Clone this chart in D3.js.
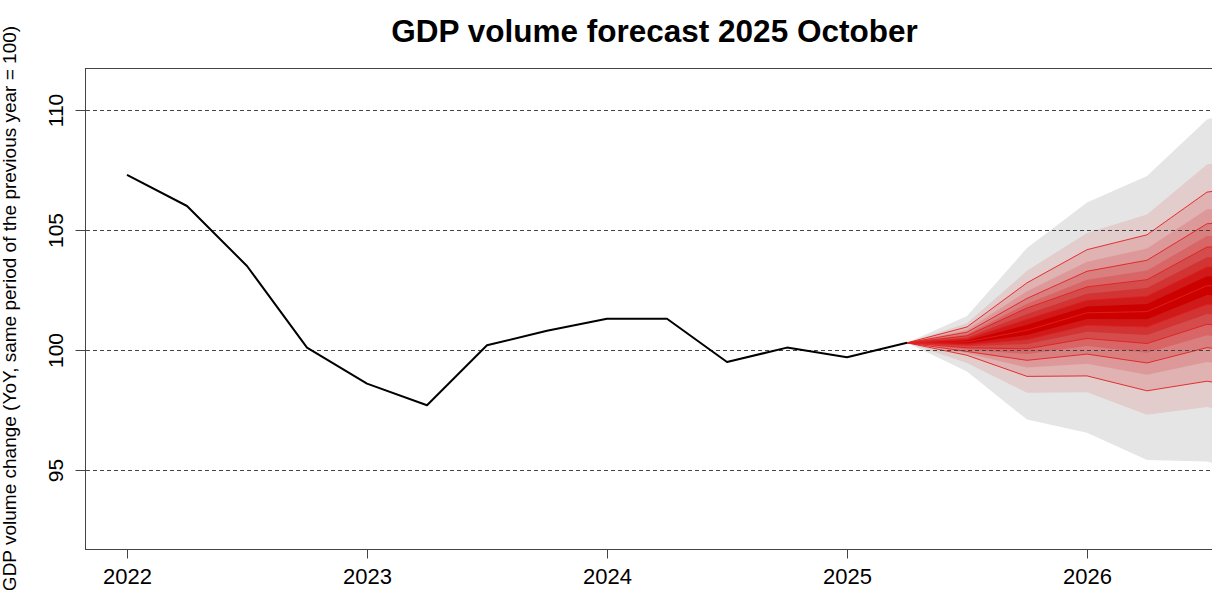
<!DOCTYPE html>
<html>
<head>
<meta charset="utf-8">
<script src="https://cdn.jsdelivr.net/npm/d3@7/dist/d3.min.js"></script>
<style>
  body { margin: 0; background: #fff; }
  svg { display: block; }
  text { font-family: "Liberation Sans", Arial, Helvetica, sans-serif; fill: #000; }
</style>
</head>
<body>
<svg id="chart" width="1212" height="590"></svg>
<script>
// Observed GDP volume index (same period of previous year = 100), quarterly
const histPeriods = ["2022Q1","2022Q2","2022Q3","2022Q4","2023Q1","2023Q2","2023Q3",
                     "2023Q4","2024Q1","2024Q2","2024Q3","2024Q4","2025Q1","2025Q2"];
const histValues  = [107.3, 106.0, 103.5, 100.1, 98.6, 97.7, 100.2,
                     100.8, 101.3, 101.3, 99.5, 100.1, 99.7, 100.3];

// Forecast fan: percentiles of the predictive distribution per quarter
const fanPercentiles = [1,5,10,15,20,25,30,35,40,45,50,55,60,65,70,75,80,85,90,95,99];
const fanPeriods = ["2025Q2","2025Q3","2025Q4","2026Q1","2026Q2","2026Q3","2026Q4"];
const fan2025Q2 = [100.3,100.3,100.3,100.3,100.3,100.3,100.3,100.3,100.3,100.3,100.3,
                   100.3,100.3,100.3,100.3,100.3,100.3,100.3,100.3,100.3,100.3];
const fan2025Q3 = [99.10,99.46,99.78,99.86,99.94,100.02,100.09,100.16,100.22,100.28,100.34,
                   100.40,100.46,100.52,100.59,100.66,100.74,100.84,100.96,101.11,101.42];
const fan2025Q4 = [97.10,98.22,98.90,99.27,99.57,99.83,100.05,100.25,100.43,100.62,100.82,
                   101.05,101.28,101.50,101.75,101.93,102.15,102.45,102.80,103.30,104.25];
const fan2026Q1 = [96.55,98.24,98.92,99.43,99.83,100.17,100.48,100.76,101.03,101.29,101.55,
                   101.81,102.07,102.34,102.63,102.93,103.28,103.68,104.18,104.88,106.15];
const fan2026Q2 = [95.42,97.30,98.30,98.97,99.46,99.89,100.27,100.62,100.96,101.28,101.60,
                   101.92,102.24,102.58,102.93,103.31,103.74,104.23,104.80,105.65,107.25];
const fan2026Q3 = [95.35,97.63,98.70,99.50,100.10,100.61,101.07,101.50,101.90,102.29,102.68,
                   103.07,103.46,103.86,104.29,104.75,105.26,105.86,106.58,107.73,109.60];
const fan2026Q4 = [94.81,97.09,98.31,99.13,99.78,100.34,100.84,101.31,101.75,102.18,102.60,
                   103.02,103.45,103.89,104.36,104.86,105.42,106.07,106.89,108.11,110.39];
const fanLinePercentiles = [10,20,30,40,50,60,70,80,90];

const xTicks = [2022, 2023, 2024, 2025, 2026];
const yTicks = [95, 100, 105, 110];

const titleText  = "GDP volume forecast 2025 October";
const yAxisTitle = "GDP volume change (YoY, same period of the previous year = 100)";

// ---- layout ----
const plot = { left: 86, right: 1223, top: 68, bottom: 549 };

const toYear = p => +p.slice(0, 4) + (+p.slice(5) - 1) / 4;

const x = d3.scaleLinear()
  .domain([2022 - (127 - plot.left) / 240, 2022 + (plot.right - 127) / 240])
  .range([plot.left, plot.right]);
const y = d3.scaleLinear()
  .domain([100 - (plot.bottom - 350) / 24, 100 + (350 - plot.top) / 24])
  .range([plot.bottom, plot.top]);

const svg = d3.select("#chart");

svg.append("defs").append("clipPath").attr("id", "plotClip")
  .append("rect")
  .attr("x", plot.left).attr("y", plot.top)
  .attr("width", plot.right - plot.left).attr("height", plot.bottom - plot.top);

const fanRows = [fan2025Q2, fan2025Q3, fan2025Q4, fan2026Q1, fan2026Q2, fan2026Q3, fan2026Q4];
const fanTable = fanPeriods.map((p, i) => {
  const row = { t: toYear(p) };
  fanPercentiles.forEach((q, j) => { row[q] = fanRows[i][j]; });
  return row;
});

const g = svg.append("g").attr("clip-path", "url(#plotClip)");

// nested central intervals, outer (grey) to inner (deep red)
const nBands = fanPercentiles.length >> 1;   // 10
const bandColor = d3.interpolateRgb("#e5e5e5", "#cd0000");
for (let k = 0; k < nBands; k++) {
  const lo = fanPercentiles[k], hi = fanPercentiles[fanPercentiles.length - 1 - k];
  const area = d3.area()
    .x(d => x(d.t))
    .y0(d => y(d[lo]))
    .y1(d => y(d[hi]));
  g.append("path")
    .datum(fanTable)
    .attr("d", area)
    .attr("fill", bandColor(k / (nBands - 1)))
    .attr("stroke", "none");
}

// percentile lines
fanLinePercentiles.forEach(q => {
  const line = d3.line().x(d => x(d.t)).y(d => y(d[q]));
  g.append("path")
    .datum(fanTable)
    .attr("d", line)
    .attr("fill", "none")
    .attr("stroke", "#e02020")
    .attr("stroke-width", 0.9);
});

// dashed reference lines
g.selectAll("line.grid")
  .data(yTicks)
  .join("line")
  .attr("class", "grid")
  .attr("x1", plot.left).attr("x2", plot.right)
  .attr("y1", d => Math.round(y(d)) + 0.5).attr("y2", d => Math.round(y(d)) + 0.5)
  .attr("stroke", "#444")
  .attr("stroke-width", 1)
  .attr("stroke-dasharray", "4,3");

// observed series
const histData = histPeriods.map((p, i) => ({ t: toYear(p), v: histValues[i] }));
g.append("path")
  .datum(histData)
  .attr("d", d3.line().x(d => x(d.t)).y(d => y(d.v)))
  .attr("fill", "none")
  .attr("stroke", "#000")
  .attr("stroke-width", 2)
  .attr("stroke-linejoin", "round");

// frame
svg.append("rect")
  .attr("x", plot.left - 0.5).attr("y", plot.top + 0.5)
  .attr("width", plot.right - plot.left).attr("height", plot.bottom - plot.top)
  .attr("fill", "none")
  .attr("stroke", "#444")
  .attr("stroke-width", 1);

// x axis
const xAxis = d3.axisBottom(x).tickValues(xTicks).tickFormat(d3.format("d"))
  .tickSize(9).tickPadding(8);
const gx = svg.append("g").attr("transform", `translate(0,${plot.bottom + 0.5})`).call(xAxis);
gx.select(".domain").remove();
gx.selectAll(".tick line").attr("stroke", "#444");
gx.selectAll(".tick text").attr("font-size", 22).attr("dy", null).attr("y", 34)
  .style("font-family", "'Liberation Sans', Arial, sans-serif");

// y axis
const yAxis = d3.axisLeft(y).tickValues(yTicks).tickFormat(d3.format("d")).tickSize(10);
const gy = svg.append("g").attr("transform", `translate(${plot.left - 0.5},0)`).call(yAxis);
gy.select(".domain").remove();
gy.selectAll(".tick line").attr("stroke", "#444");
gy.selectAll(".tick text")
  .attr("x", null).attr("dy", null)
  .attr("text-anchor", "middle")
  .attr("transform", "translate(-23,0) rotate(-90)")
  .attr("font-size", 21)
  .style("font-family", "'Liberation Sans', Arial, sans-serif");

// titles
svg.append("text")
  .attr("x", (plot.left + plot.right) / 2).attr("y", 42)
  .attr("text-anchor", "middle")
  .attr("font-size", 31.5).attr("font-weight", "bold")
  .text(titleText);

svg.append("text")
  .attr("transform", `translate(16,${(plot.top + plot.bottom) / 2}) rotate(-90)`)
  .attr("text-anchor", "middle")
  .attr("font-size", 19)
  .text(yAxisTitle);
</script>
</body>
</html>
